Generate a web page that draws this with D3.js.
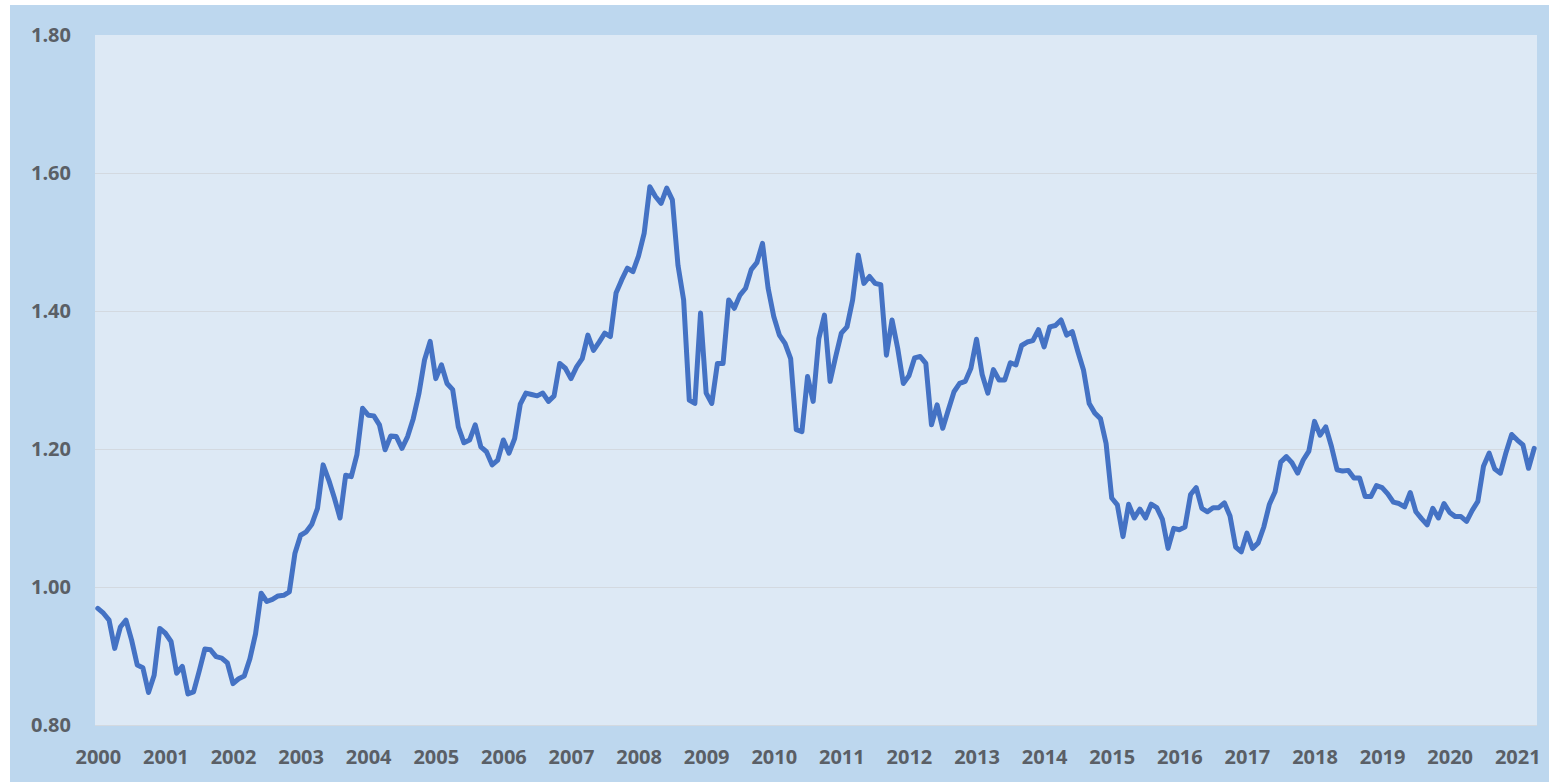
<!DOCTYPE html>
<html>
<head>
<meta charset="utf-8">
<script src="https://cdn.jsdelivr.net/npm/d3@7"></script>
<style>
  html, body { margin: 0; padding: 0; background: #ffffff; }
  svg { display: block; }
</style>
</head>
<body>
<svg id="chart"></svg>
<script>
// Month-end values, Jan 2000 .. Apr 2021 (one row per year)
const rates = [
  0.969, 0.962, 0.952, 0.911, 0.942, 0.952, 0.923, 0.887, 0.883, 0.847, 0.872, 0.940, // 2000
  0.933, 0.921, 0.875, 0.885, 0.845, 0.848, 0.878, 0.910, 0.909, 0.899, 0.897, 0.890, // 2001
  0.860, 0.867, 0.871, 0.896, 0.932, 0.991, 0.979, 0.982, 0.987, 0.988, 0.993, 1.049, // 2002
  1.075, 1.080, 1.091, 1.114, 1.177, 1.155, 1.129, 1.100, 1.162, 1.160, 1.192, 1.259, // 2003
  1.249, 1.248, 1.235, 1.199, 1.219, 1.218, 1.201, 1.218, 1.244, 1.280, 1.329, 1.356, // 2004
  1.302, 1.322, 1.295, 1.286, 1.232, 1.209, 1.213, 1.235, 1.203, 1.196, 1.177, 1.184, // 2005
  1.213, 1.194, 1.215, 1.265, 1.281, 1.279, 1.277, 1.281, 1.269, 1.277, 1.324, 1.317, // 2006
  1.302, 1.319, 1.331, 1.365, 1.343, 1.355, 1.368, 1.363, 1.426, 1.445, 1.462, 1.457, // 2007
  1.480, 1.513, 1.580, 1.566, 1.556, 1.578, 1.561, 1.466, 1.416, 1.271, 1.266, 1.397, // 2008
  1.281, 1.266, 1.324, 1.324, 1.416, 1.404, 1.423, 1.433, 1.460, 1.470, 1.498, 1.433, // 2009
  1.392, 1.365, 1.353, 1.331, 1.228, 1.225, 1.305, 1.269, 1.360, 1.394, 1.298, 1.334, // 2010
  1.368, 1.377, 1.416, 1.481, 1.440, 1.450, 1.440, 1.438, 1.336, 1.387, 1.346, 1.295, // 2011
  1.306, 1.332, 1.334, 1.324, 1.235, 1.264, 1.230, 1.257, 1.283, 1.295, 1.298, 1.317, // 2012
  1.359, 1.308, 1.281, 1.315, 1.300, 1.300, 1.325, 1.322, 1.350, 1.355, 1.357, 1.373, // 2013
  1.348, 1.377, 1.379, 1.387, 1.365, 1.370, 1.341, 1.314, 1.266, 1.252, 1.244, 1.208, // 2014
  1.129, 1.119, 1.073, 1.120, 1.100, 1.113, 1.100, 1.120, 1.115, 1.098, 1.056, 1.085, // 2015
  1.083, 1.087, 1.134, 1.144, 1.114, 1.109, 1.115, 1.115, 1.122, 1.103, 1.058, 1.051, // 2016
  1.078, 1.056, 1.064, 1.087, 1.120, 1.138, 1.181, 1.189, 1.180, 1.165, 1.184, 1.197, // 2017
  1.240, 1.220, 1.232, 1.204, 1.170, 1.168, 1.169, 1.158, 1.158, 1.131, 1.131, 1.147, // 2018
  1.144, 1.135, 1.123, 1.121, 1.116, 1.137, 1.109, 1.099, 1.090, 1.114, 1.100, 1.121, // 2019
  1.108, 1.102, 1.102, 1.095, 1.111, 1.124, 1.175, 1.194, 1.171, 1.165, 1.195, 1.221, // 2020
  1.213, 1.206, 1.172, 1.201                                                          // 2021
];

// Tick labels
const yearLabels = ['2000', '2001', '2002', '2003', '2004', '2005', '2006', '2007',
  '2008', '2009', '2010', '2011', '2012', '2013', '2014', '2015', '2016', '2017',
  '2018', '2019', '2020', '2021'];
const yTicks = [0.80, 1.00, 1.20, 1.40, 1.60, 1.80];

// Categories: one per month, "YYYY-MM"
const months = rates.map((_, i) => `${2000 + Math.floor(i / 12)}-${String(i % 12 + 1).padStart(2, '0')}`);

const W = 1549, H = 782;
const plot = { left: 95, right: 1537, top: 35, bottom: 725 };

const svg = d3.select('#chart').attr('width', W).attr('height', H);

// Outer chart background and plot area
svg.append('rect')
  .attr('x', 10).attr('y', 5)
  .attr('width', W - 10).attr('height', H - 5)
  .attr('fill', '#bdd7ee');

svg.append('rect')
  .attr('x', plot.left).attr('y', plot.top)
  .attr('width', plot.right - plot.left).attr('height', plot.bottom - plot.top)
  .attr('fill', '#dde9f5');

// Scales
const x = d3.scalePoint()
  .domain(months)
  .range([plot.left, plot.right])
  .padding(0.5);

const y = d3.scaleLinear()
  .domain([0.8, 1.8])
  .range([plot.bottom, plot.top]);

// Grid lines
svg.append('g')
  .attr('transform', `translate(${plot.left},0)`)
  .call(d3.axisLeft(y)
    .tickValues(yTicks.filter(v => v < 1.79))
    .tickSize(-(plot.right - plot.left))
    .tickFormat(''))
  .call(g => g.select('.domain').remove())
  .selectAll('.tick line')
  .attr('stroke', '#d3d9e0')
  .attr('stroke-width', 1);

// Y axis labels
svg.append('g')
  .attr('transform', `translate(${plot.left},0)`)
  .call(d3.axisLeft(y)
    .tickValues(yTicks)
    .tickSize(0)
    .tickPadding(24)
    .tickFormat(d3.format('.2f')))
  .call(g => g.select('.domain').remove())
  .selectAll('text')
  .style('font-family', '"Open Sans", "Noto Sans", sans-serif')
  .style('font-weight', '700')
  .style('font-size', '20px')
  .style('fill', '#5a5f66');

// X axis labels (one per January)
const janMonths = yearLabels.map(yr => `${yr}-01`);
svg.append('g')
  .attr('transform', `translate(0,${plot.bottom})`)
  .call(d3.axisBottom(x)
    .tickValues(janMonths)
    .tickSize(0)
    .tickPadding(25)
    .tickFormat(d => d.slice(0, 4)))
  .call(g => g.select('.domain').remove())
  .selectAll('text')
  .style('font-family', '"Open Sans", "Noto Sans", sans-serif')
  .style('font-weight', '700')
  .style('font-size', '20px')
  .style('fill', '#5a5f66');

// Line
const line = d3.line()
  .x((d, i) => x(months[i]))
  .y(d => y(d));

svg.append('path')
  .datum(rates)
  .attr('fill', 'none')
  .attr('stroke', '#4472c4')
  .attr('stroke-width', 5)
  .attr('stroke-linejoin', 'round')
  .attr('stroke-linecap', 'round')
  .attr('d', line);
</script>
</body>
</html>
